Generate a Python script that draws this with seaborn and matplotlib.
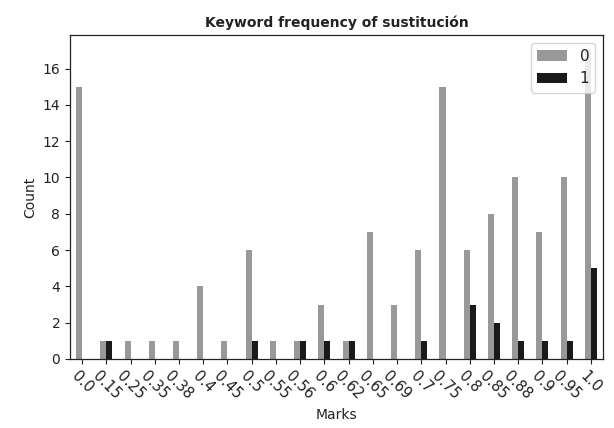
import matplotlib
matplotlib.use("Agg")
import matplotlib.pyplot as plt
import seaborn as sns
import pandas as pd

marks = ["0.0", "0.15", "0.25", "0.35", "0.38", "0.4", "0.45", "0.5", "0.55", "0.56",
         "0.6", "0.62", "0.65", "0.69", "0.7", "0.75", "0.8", "0.85", "0.88", "0.9",
         "0.95", "1.0"]
count_0 = [15, 1, 1, 1, 1, 4, 1, 6, 1, 1, 3, 1, 7, 3, 6, 15, 6, 8, 10, 7, 10, 17]
count_1 = [0, 1, 0, 0, 0, 0, 0, 1, 0, 1, 1, 1, 0, 0, 1, 0, 3, 2, 1, 1, 1, 5]
groups = ["0", "1"]
colors = ["#999999", "#1a1a1a"]

df = pd.DataFrame({
    "Marks": marks * 2,
    "Count": count_0 + count_1,
    "group": [groups[0]] * len(marks) + [groups[1]] * len(marks),
})

sns.set_style("ticks")
plt.rcParams["font.family"] = ["DejaVu Sans"]
plt.rcParams["text.color"] = "#222222"
plt.rcParams["axes.labelcolor"] = "#222222"
plt.rcParams["xtick.color"] = "#222222"
plt.rcParams["ytick.color"] = "#222222"

fig = plt.figure(figsize=(6.14, 4.28), dpi=100)
ax = fig.add_axes([70 / 614, 1 - 359 / 428, 533 / 614, 324 / 428])
sns.barplot(data=df, x="Marks", y="Count", hue="group", order=marks,
            hue_order=groups, palette=colors, width=0.5, saturation=1,
            ax=ax, edgecolor="none", linewidth=0)
ax.set_xlim(-0.5, len(marks) - 0.5)
ax.set_ylim(0, 17.85)
ax.set_yticks(range(0, 17, 2))
ax.tick_params(axis="x", rotation=-45, labelsize=10.5)
ax.tick_params(axis="y", labelsize=10)
for s in ax.spines.values():
    s.set_visible(True)
    s.set_color("#222222")
    s.set_linewidth(0.9)
ax.set_xlabel("Marks", fontsize=10)
ax.set_ylabel("Count", fontsize=10)
ax.set_title("Keyword frequency of sustitución", fontsize=10, fontweight="bold")
leg = ax.legend(loc="upper right", title=None, fontsize=11)
fig.savefig("out.png", dpi=100, facecolor="white")
